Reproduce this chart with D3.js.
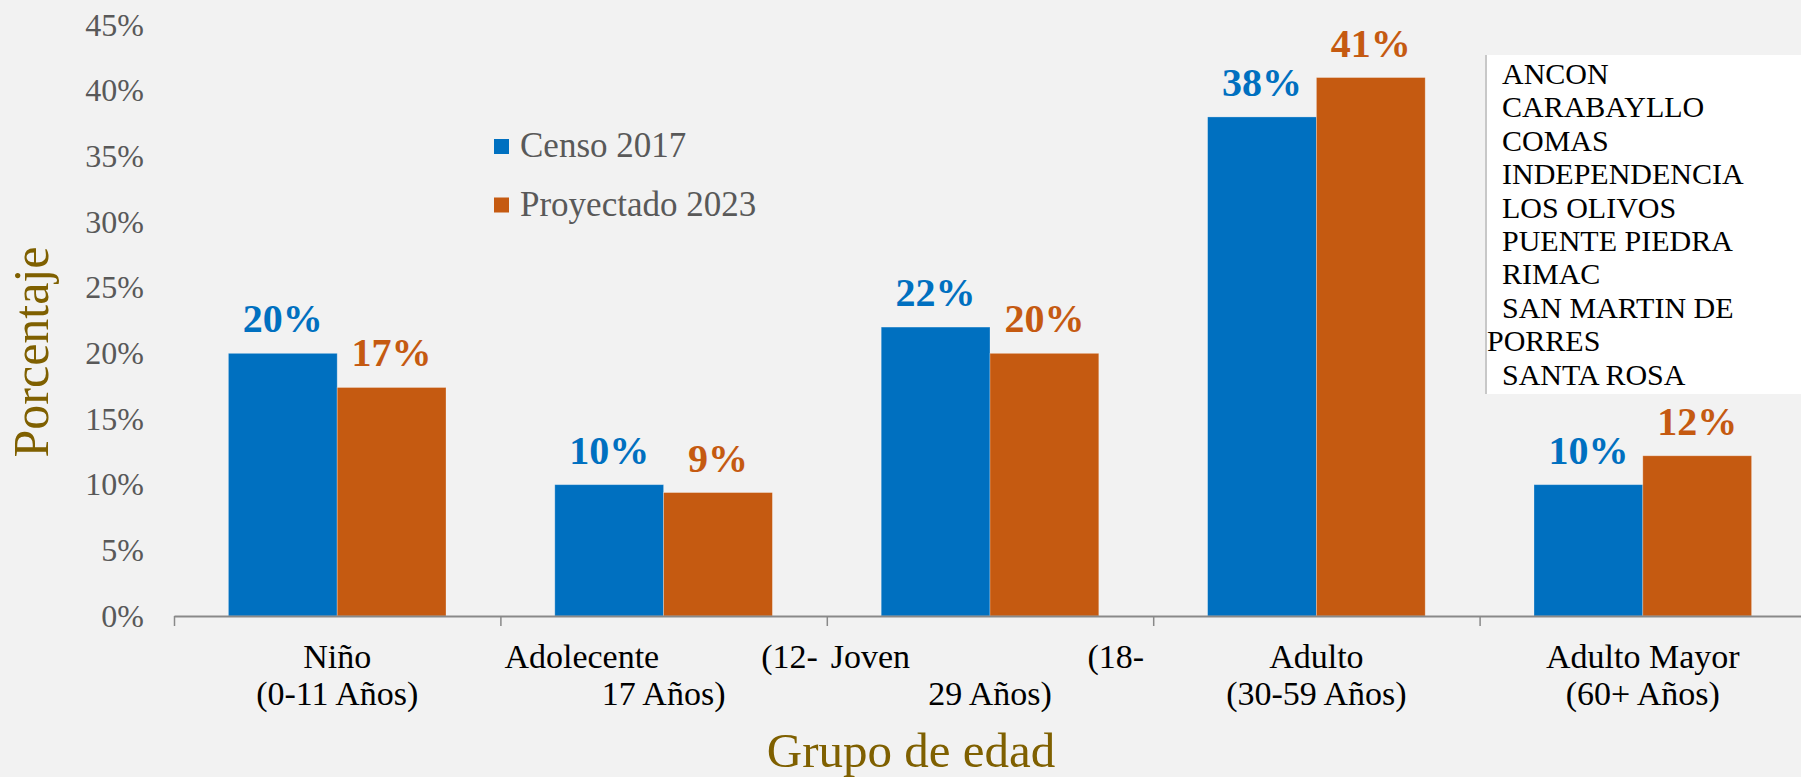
<!DOCTYPE html>
<html>
<head>
<meta charset="utf-8">
<script src="https://cdnjs.cloudflare.com/ajax/libs/d3/7.8.5/d3.min.js"></script>
<style>
  html, body { margin: 0; padding: 0; background: #f2f2f2; overflow: hidden; }
  svg { display: block; font-family: "Liberation Serif", serif; }
</style>
</head>
<body>
<div class="container"></div>
<script>
/* globals d3 */
const categories = ["Niño", "Adolecente", "Joven", "Adulto", "Adulto Mayor"];
const labelTop = [["Niño"], ["Adolecente", "(12-"], ["Joven", "(18-"], ["Adulto"], ["Adulto Mayor"]];
const labelBottom = ["(0-11 Años)", "17 Años)", "29 Años)", "(30-59 Años)", "(60+ Años)"];
const series = ["Censo 2017", "Proyectado 2023"];
const censo2017 = [20.0, 10.0, 22.0, 38.0, 10.0];
const proyectado2023 = [17.4, 9.4, 20.0, 41.0, 12.2];
const yTicks = [0, 5, 10, 15, 20, 25, 30, 35, 40, 45];
const districts = ["ANCON", "CARABAYLLO", "COMAS", "INDEPENDENCIA", "LOS OLIVOS",
                   "PUENTE PIEDRA", "RIMAC", "SAN MARTIN DE PORRES", "SANTA ROSA"];
const colors = ["#0070C0", "#C55A11"];

const w = 1801;
const h = 777;
const plotLeft = 174;
const plotRight = 1806;
const plotTop = 25;
const plotBottom = 616;

const values = [censo2017, proyectado2023];

const svg = d3.select(".container")
  .append("svg")
  .attr("width", w)
  .attr("height", h);

svg.append("rect")
  .attr("width", w)
  .attr("height", h)
  .attr("fill", "#f2f2f2");

const x0 = d3.scaleBand()
  .domain(categories)
  .range([plotLeft, plotRight])
  .paddingInner(1 / 3)
  .paddingOuter(1 / 6);

const x1 = d3.scaleBand()
  .domain(series)
  .range([0, x0.bandwidth()]);

const y = d3.scaleLinear()
  .domain([0, 45])
  .range([plotBottom, plotTop]);

const xEdge = d3.scaleLinear()
  .domain([0, categories.length])
  .range([plotLeft, plotRight]);

// y axis labels only
const yAxis = d3.axisLeft(y)
  .tickValues(yTicks)
  .tickFormat(d => d + "%")
  .tickSize(0)
  .tickPadding(4);

const gy = svg.append("g")
  .attr("transform", "translate(148,0)")
  .call(yAxis);
gy.select(".domain").remove();
gy.selectAll("text")
  .attr("font-family", "Liberation Serif")
  .attr("font-size", 32)
  .attr("fill", "#595959");

// bars
const groups = svg.append("g")
  .selectAll("g")
  .data(categories)
  .join("g")
  .attr("transform", d => "translate(" + x0(d) + ",0)");

groups.selectAll("rect")
  .data((d, i) => series.map((s, j) => ({ s: s, v: values[j][i], c: colors[j] })))
  .join("rect")
  .attr("x", d => x1(d.s))
  .attr("y", d => y(d.v))
  .attr("width", x1.bandwidth())
  .attr("height", d => y(0) - y(d.v))
  .attr("fill", d => d.c)
  .attr("stroke", "rgba(255,255,255,0.35)")
  .attr("stroke-width", 0.8);

groups.selectAll("text")
  .data((d, i) => series.map((s, j) => ({ s: s, v: values[j][i], c: colors[j] })))
  .join("text")
  .attr("x", d => x1(d.s) + x1.bandwidth() / 2)
  .attr("y", d => y(d.v) - 21)
  .attr("text-anchor", "middle")
  .attr("font-size", 40)
  .attr("font-weight", "bold")
  .attr("fill", d => d.c)
  .text(d => d3.format(".0%")(d.v / 100));

// x axis with ticks between categories
const xAxis = d3.axisBottom(xEdge)
  .tickValues(d3.range(categories.length + 1))
  .tickFormat("")
  .tickSizeInner(10)
  .tickSizeOuter(0);

const gx = svg.append("g")
  .attr("transform", "translate(0," + plotBottom + ")")
  .call(xAxis);
gx.select(".domain").attr("stroke", "#898989").attr("stroke-width", 2);
gx.selectAll(".tick line").attr("stroke", "#898989").attr("stroke-width", 1.5);

const step = x0.step();
categories.forEach((c, i) => {
  const cx = x0(c) + x0.bandwidth() / 2;
  const a = cx - step / 2;
  const b = cx + step / 2;
  const top1 = labelTop[i];
  if (top1.length === 1) {
    svg.append("text")
      .attr("x", cx)
      .attr("y", 668)
      .attr("text-anchor", "middle")
      .attr("font-size", 34)
      .attr("fill", "#000")
      .text(top1[0]);
  } else {
    svg.append("text")
      .attr("x", a + 4)
      .attr("y", 668)
      .attr("font-size", 34)
      .attr("fill", "#000")
      .text(top1[0]);
    svg.append("text")
      .attr("x", b - 9)
      .attr("y", 668)
      .attr("text-anchor", "end")
      .attr("font-size", 34)
      .attr("fill", "#000")
      .text(top1[1]);
  }
  svg.append("text")
    .attr("x", cx)
    .attr("y", 705)
    .attr("text-anchor", "middle")
    .attr("font-size", 34)
    .attr("fill", "#000")
    .text(labelBottom[i]);
});

// axis titles
svg.append("text")
  .attr("transform", "translate(48,352) rotate(-90)")
  .attr("text-anchor", "middle")
  .attr("font-size", 50)
  .attr("fill", "#7F6000")
  .text("Porcentaje");

svg.append("text")
  .attr("x", 911)
  .attr("y", 767)
  .attr("text-anchor", "middle")
  .attr("font-size", 49)
  .attr("fill", "#7F6000")
  .text("Grupo de edad");

// legend
const legend = svg.append("g");
series.forEach((s, i) => {
  legend.append("rect")
    .attr("x", 494)
    .attr("y", 139 + i * 58.5)
    .attr("width", 15)
    .attr("height", 15)
    .attr("fill", colors[i]);
  legend.append("text")
    .attr("x", 520)
    .attr("y", 157 + i * 58.5)
    .attr("font-size", 35)
    .attr("fill", "#595959")
    .text(s);
});

// district list box
svg.append("rect")
  .attr("x", 1485)
  .attr("y", 55)
  .attr("width", w - 1485)
  .attr("height", 339)
  .attr("fill", "#ffffff");
svg.append("line")
  .attr("x1", 1486)
  .attr("x2", 1486)
  .attr("y1", 55)
  .attr("y2", 394)
  .attr("stroke", "#c8c8c8")
  .attr("stroke-width", 2);

let lineNo = 0;
const maxW = w - 1502 - 6;
districts.forEach(name => {
  const words = name.split(" ");
  let line = [];
  let first = true;
  words.forEach(word => {
    line.push(word);
    const t = svg.append("text")
      .attr("font-size", 30)
      .text(line.join(" "));
    const len = t.node().getComputedTextLength();
    t.remove();
    if (len > maxW && line.length > 1) {
      line.pop();
      svg.append("text")
        .attr("x", first ? 1502 : 1487)
        .attr("y", 84 + lineNo * 33.4)
        .attr("font-size", 30)
        .attr("fill", "#000")
        .text(line.join(" "));
      lineNo++;
      first = false;
      line = [word];
    }
  });
  svg.append("text")
    .attr("x", first ? 1502 : 1487)
    .attr("y", 84 + lineNo * 33.4)
    .attr("font-size", 30)
    .attr("fill", "#000")
    .text(line.join(" "));
  lineNo++;
});
</script>
</body>
</html>
